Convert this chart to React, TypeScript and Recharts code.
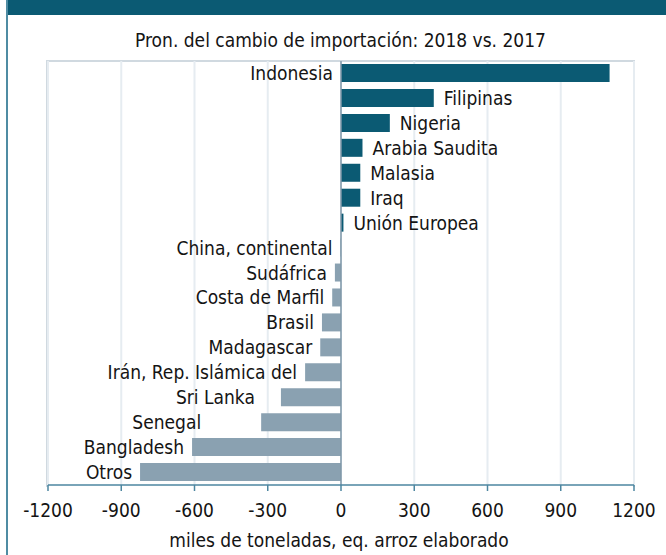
import React from 'react';
import { BarChart, Bar, XAxis, YAxis, CartesianGrid, ReferenceLine, Cell, LabelList } from 'recharts';

const countries = [
  'Indonesia',
  'Filipinas',
  'Nigeria',
  'Arabia Saudita',
  'Malasia',
  'Iraq',
  'Unión Europea',
  'China, continental',
  'Sudáfrica',
  'Costa de Marfil',
  'Brasil',
  'Madagascar',
  'Irán, Rep. Islámica del',
  'Sri Lanka',
  'Senegal',
  'Bangladesh',
  'Otros',
];

// change in imports, thousand tonnes
const changes = [1100, 380, 200, 88, 79, 79, 10, -2, -25, -36, -78, -85, -147, -246, -327, -610, -823];

const xTicks = [-1200, -900, -600, -300, 0, 300, 600, 900, 1200];

const FONT = "'Liberation Sans Narrow', 'DejaVu Sans Condensed', sans-serif";
const POS = '#0b5a73';
const NEG = '#8aa1b1';

// a couple of labels sit further out in the original
const labelNudge: Record<string, number> = { 'Sri Lanka': -18, Senegal: -52 };

const data = countries.map((name, i) => ({ name, value: changes[i] }));

const BarLabel = (props: any) => {
  const { x, y, width, height, index } = props;
  const v = changes[index];
  const name = countries[index];
  const left = Math.min(x, x + width);
  const right = Math.max(x, x + width);
  const cy = y + height / 2;
  const onRight = v > 0 && v < 1000;
  const tx = onRight ? right + 10 : left - 8 + (labelNudge[name] || 0);
  return (
    <text
      x={tx}
      y={cy}
      textAnchor={onRight ? 'start' : 'end'}
      dominantBaseline="central"
      fontSize={19}
      fontFamily={FONT}
      fill="#141414"
    >
      {name}
    </text>
  );
};

export default function App() {
  return (
    <div style={{ position: 'absolute', left: 0, top: 0, width: 666, height: 555, background: '#fff', overflow: 'hidden' }}>
      <div style={{ position: 'absolute', left: 6, top: 0, width: 660, height: 15, background: '#0b5a73' }} />
      <div style={{ position: 'absolute', left: 6, top: 0, width: 2, height: 555, background: '#4f8ca3' }} />
      <div
        style={{
          position: 'absolute',
          left: 0,
          top: 29,
          width: 681,
          textAlign: 'center',
          fontFamily: FONT,
          fontSize: 19,
          color: '#141414',
        }}
      >
        Pron. del cambio de importación: 2018 vs. 2017
      </div>
      <div
        style={{
          position: 'absolute',
          left: 46,
          top: 60,
          width: 585,
          height: 425,
          borderTop: '2px solid #d0d9e0',
          borderLeft: '2px solid #d0d9e0',
          borderRight: '2px solid #d0d9e0',
        }}
      />
      <div style={{ position: 'absolute', left: 0, top: 0 }}>
        <BarChart
          width={666}
          height={555}
          data={data}
          layout="vertical"
          margin={{ top: 61, right: 32, bottom: 0, left: 48 }}
          barSize={18}
        >
          <CartesianGrid horizontal={false} stroke="#e6ecf1" strokeWidth={2} />
          <XAxis
            type="number"
            domain={[-1200, 1200]}
            ticks={xTicks}
            interval={0}
            axisLine={{ stroke: '#4d86a0', strokeWidth: 1.5 }}
            tickLine={{ stroke: '#4d86a0', strokeWidth: 1.5 }}
            tickSize={6}
            tickMargin={13}
            tick={{ fontSize: 19, fontFamily: FONT, fill: '#141414' }}
            height={70}
          />
          <YAxis type="category" dataKey="name" hide />
          <Bar dataKey="value" isAnimationActive={false}>
            {data.map((d, i) => (
              <Cell key={`cell-${i}`} fill={d.value >= 0 ? POS : NEG} />
            ))}
            <LabelList dataKey="name" content={<BarLabel />} />
          </Bar>
          <ReferenceLine x={0} stroke="#7f98a8" strokeWidth={1.5} />
        </BarChart>
      </div>
      <div
        style={{
          position: 'absolute',
          left: 0,
          top: 529,
          width: 678,
          textAlign: 'center',
          fontFamily: FONT,
          fontSize: 19,
          color: '#141414',
        }}
      >
        miles de toneladas, eq. arroz elaborado
      </div>
    </div>
  );
}
